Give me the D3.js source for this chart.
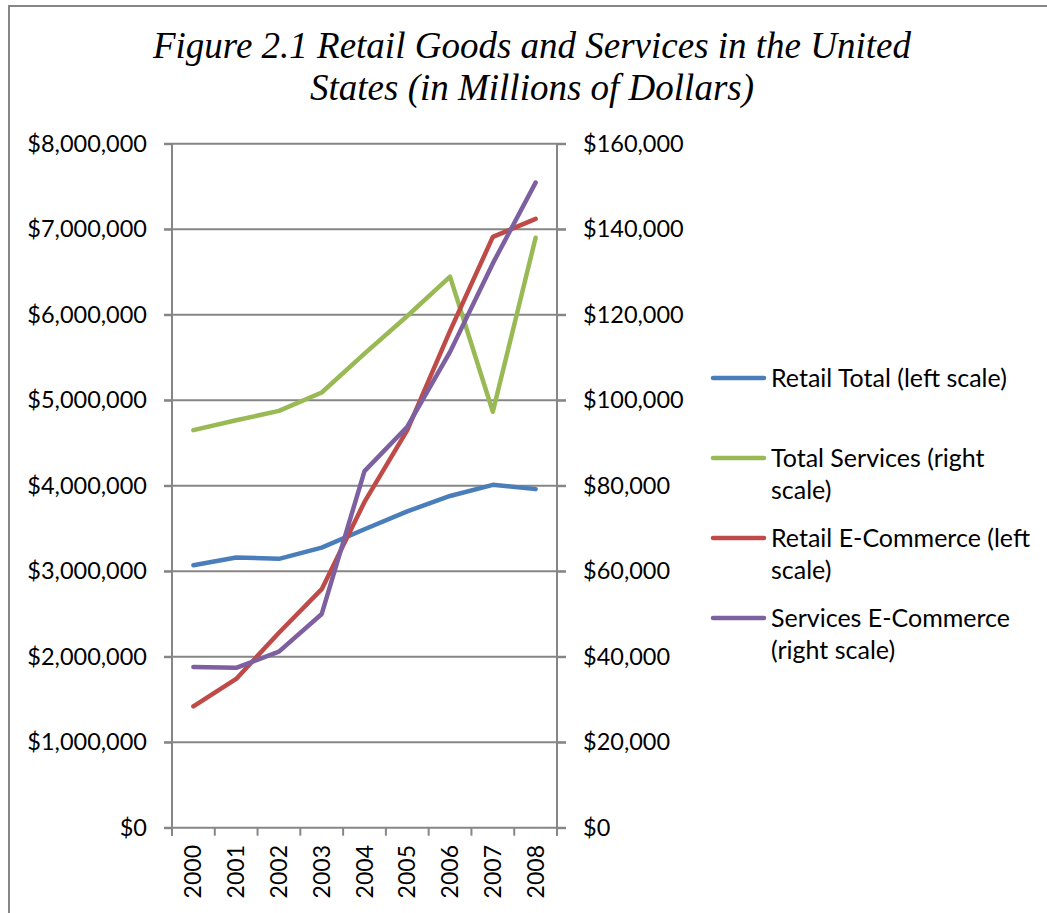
<!DOCTYPE html>
<html><head><meta charset="utf-8">
<script src="https://cdn.jsdelivr.net/npm/d3@7"></script>
<style>body{margin:0;background:#fff}svg{display:block}</style>
</head><body>
<svg id="c" width="1047" height="913"></svg>
<script>
const years = ["2000","2001","2002","2003","2004","2005","2006","2007","2008"];
const retailTotal = [3070000,3160000,3145000,3275000,3490000,3700000,3880000,4010000,3960000];
const totalServices = [93000,95300,97500,101800,110900,119700,128900,97300,138000];
const retailEcom = [1420000,1740000,2280000,2790000,3810000,4650000,5810000,6910000,7120000];
const servicesEcom = [37600,37400,41200,50000,83400,93800,111300,132000,150900];
const leftTicks = [0,1000000,2000000,3000000,4000000,5000000,6000000,7000000,8000000];
const rightTicks = [0,20000,40000,60000,80000,100000,120000,140000,160000];
const legendLabels = [["Retail Total (left scale)"],["Total Services (right","scale)"],["Retail E-Commerce (left","scale)"],["Services E-Commerce","(right scale)"]];
const colors = ["#4A7EBB","#98B954","#BE4B48","#7D60A0"];
const titleLines = ["Figure 2.1 Retail Goods and Services in the United","States (in Millions of Dollars)"];

const svg = d3.select("#c");
const gray = "#868686";
const L = 172, R = 557, T = 143.7, B = 827.7;
const x = d3.scaleBand().domain(years).range([L, R]);
const yL = d3.scaleLinear().domain([0, 8000000]).range([B, T]);
const yR = d3.scaleLinear().domain([0, 160000]).range([B, T]);

// outer border
svg.append("rect").attr("x",9).attr("y",6).attr("width",1100).attr("height",1000)
  .attr("fill","none").attr("stroke",gray).attr("stroke-width",2);

// title
svg.append("g").selectAll("text").data(titleLines).join("text")
  .attr("x",532).attr("y",(d,i)=>58+i*42).attr("text-anchor","middle")
  .attr("font-family","Liberation Serif").attr("font-style","italic").attr("font-size",37)
  .attr("fill","#000").text(d=>d);

// gridlines
svg.append("g").selectAll("line").data(leftTicks).join("line")
  .attr("x1",164).attr("x2",566).attr("y1",d=>yL(d)).attr("y2",d=>yL(d))
  .attr("stroke",gray).attr("stroke-width",2);

// axes
const fmtL = d => "$" + d3.format(",")(d);
const axL = svg.append("g").attr("transform",`translate(${L},0)`)
  .call(d3.axisLeft(yL).tickValues(leftTicks).tickFormat(fmtL).tickSize(8).tickPadding(17));
const axR = svg.append("g").attr("transform",`translate(${R},0)`)
  .call(d3.axisRight(yR).tickValues(rightTicks).tickFormat(fmtL).tickSize(9).tickPadding(17));
[axL, axR].forEach(a=>{
  a.selectAll(".tick line").attr("stroke",gray).attr("stroke-width",2);
  a.selectAll("text").attr("font-family","Lato").attr("font-size",23.5).attr("fill","#000");
});
axL.select(".domain").remove(); axR.select(".domain").remove();
svg.append("line").attr("x1",L).attr("x2",L).attr("y1",T).attr("y2",B+8).attr("stroke",gray).attr("stroke-width",2);
svg.append("line").attr("x1",R).attr("x2",R).attr("y1",T).attr("y2",B+8).attr("stroke",gray).attr("stroke-width",2);

// x axis ticks at band boundaries
const bounds = years.map(d=>x(d)).concat([R]);
svg.append("g").selectAll("line").data(bounds).join("line")
  .attr("x1",d=>d).attr("x2",d=>d).attr("y1",B).attr("y2",B+8)
  .attr("stroke",gray).attr("stroke-width",2);
svg.append("g").selectAll("text").data(years).join("text")
  .attr("transform",d=>`translate(${x(d)+x.bandwidth()/2+8},845) rotate(-90)`)
  .attr("text-anchor","end")
  .attr("font-family","Lato").attr("font-size",23).attr("fill","#000").text(d=>d);

// lines
const cx = d => x(d) + x.bandwidth()/2;
const series = [[retailTotal,yL],[totalServices,yR],[retailEcom,yL],[servicesEcom,yR]];
series.forEach(([vals,ys],i)=>{
  const line = d3.line().x((d,j)=>cx(years[j])).y(d=>ys(d));
  svg.append("path").datum(vals).attr("d",line).attr("fill","none")
    .attr("stroke",colors[i]).attr("stroke-width",4.5)
    .attr("stroke-linejoin","round").attr("stroke-linecap","round");
});

// legend
const legY = [378,458,538,618];
const lg = svg.append("g");
legendLabels.forEach((lines,i)=>{
  lg.append("line").attr("x1",713).attr("x2",764).attr("y1",legY[i]).attr("y2",legY[i])
    .attr("stroke",colors[i]).attr("stroke-width",4.5).attr("stroke-linecap","round");
  lines.forEach((t,k)=>{
    lg.append("text").attr("x",771).attr("y",legY[i]+k*32).attr("dy","0.35em")
      .attr("font-family","Lato").attr("font-size",25).attr("fill","#000").text(t);
  });
});
</script>
</body></html>
